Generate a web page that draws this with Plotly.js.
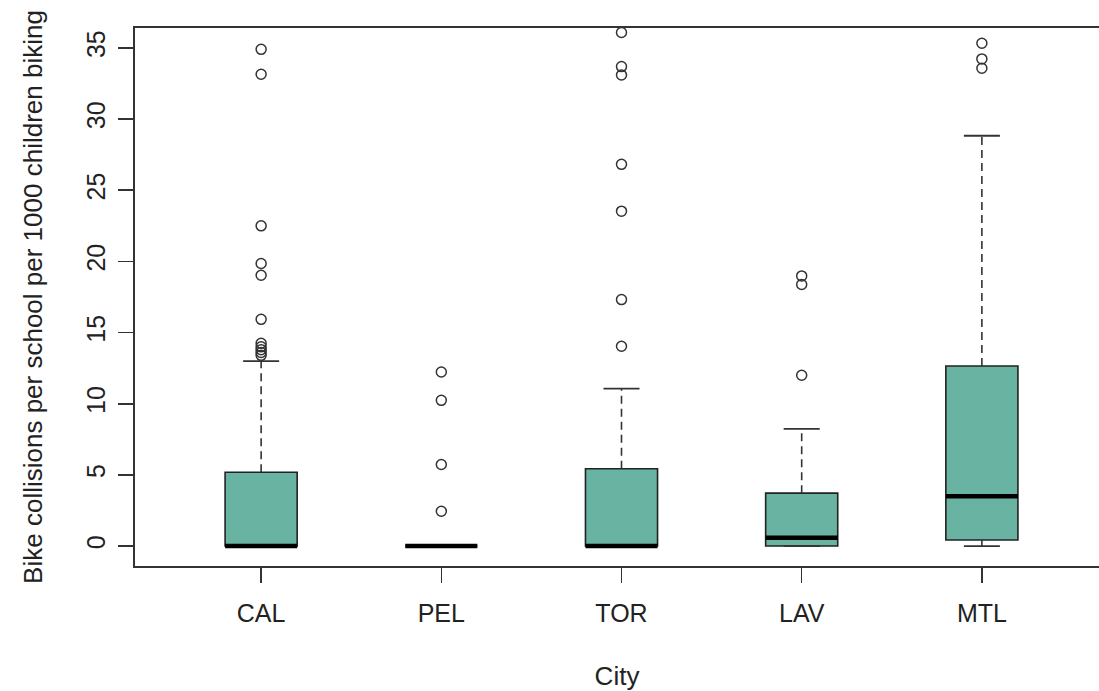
<!DOCTYPE html>
<html>
<head>
<meta charset="utf-8">
<script src="https://cdn.plot.ly/plotly-3.0.1.min.js"></script>
<style>html,body{margin:0;padding:0;background:#fff;}#chart{width:1099px;height:691px;}</style>
</head>
<body>
<div id="chart"></div>
<script>
// ---- data ----
const cities = ['CAL', 'PEL', 'TOR', 'LAV', 'MTL'];
const q1Values = [0, 0, 0, 0, 0.43];
const medianValues = [0, 0, 0, 0.58, 3.5];
const q3Values = [5.19, 0, 5.43, 3.72, 12.65];
const lowerWhiskers = [0, 0, 0, 0, 0];
const upperWhiskers = [13.0, 0, 11.06, 8.24, 28.83];
const outliersCAL = [34.9, 33.15, 22.5, 19.85, 19.03, 15.93, 14.25, 14.0, 13.8, 13.6, 13.4];
const outliersPEL = [12.23, 10.24, 5.73, 2.45];
const outliersTOR = [36.08, 33.69, 33.1, 26.82, 23.53, 17.32, 14.04];
const outliersLAV = [18.98, 18.38, 12.0];
const outliersMTL = [35.33, 34.23, 33.57];
const yTicks = [0, 5, 10, 15, 20, 25, 30, 35];

// ---- styling ----
const boxFill = '#69b3a2';
const ink = '#222222';
const boxHalf = 0.2;
const capHalf = 0.1;
const positions = cities.map((c, i) => i + 1);
const outlierSets = [outliersCAL, outliersPEL, outliersTOR, outliersLAV, outliersMTL];

const traces = [];

// box bodies
traces.push({
  type: 'box',
  x: positions,
  q1: q1Values,
  median: medianValues,
  q3: q3Values,
  lowerfence: q1Values,
  upperfence: q3Values,
  width: boxHalf * 2,
  whiskerwidth: 0,
  fillcolor: boxFill,
  line: {color: ink, width: 1.6},
  hoverinfo: 'skip',
  showlegend: false
});

// dashed whiskers
const wx = [], wy = [];
positions.forEach((p, i) => {
  wx.push(p, p, null, p, p, null);
  wy.push(q3Values[i], upperWhiskers[i], null, q1Values[i], lowerWhiskers[i], null);
});
traces.push({type: 'scatter', mode: 'lines', x: wx, y: wy,
  line: {color: '#333333', width: 1.6, dash: '8px,5px'}, hoverinfo: 'skip', showlegend: false});

// whisker caps
const cx = [], cy = [];
positions.forEach((p, i) => {
  cx.push(p - capHalf, p + capHalf, null, p - capHalf, p + capHalf, null);
  cy.push(upperWhiskers[i], upperWhiskers[i], null, lowerWhiskers[i], lowerWhiskers[i], null);
});
traces.push({type: 'scatter', mode: 'lines', x: cx, y: cy,
  line: {color: '#333333', width: 1.8}, hoverinfo: 'skip', showlegend: false});

// medians
const mx = [], my = [];
positions.forEach((p, i) => {
  mx.push(p - boxHalf, p + boxHalf, null);
  my.push(medianValues[i], medianValues[i], null);
});
traces.push({type: 'scatter', mode: 'lines', x: mx, y: my,
  line: {color: '#000000', width: 4.5}, hoverinfo: 'skip', showlegend: false});

// outliers
const ox = [], oy = [];
outlierSets.forEach((set, i) => set.forEach(v => { ox.push(positions[i]); oy.push(v); }));
traces.push({type: 'scatter', mode: 'markers', x: ox, y: oy,
  marker: {symbol: 'circle-open', size: 10, color: '#333333', line: {width: 1.5, color: '#333333'}},
  cliponaxis: true, hoverinfo: 'skip', showlegend: false});

const family = '"Liberation Sans", Arial, Helvetica, sans-serif';
const tickFont = {family: family, size: 25, color: ink};
const titleFont = {family: family, size: 26, color: ink};

const layout = {
  width: 1099, height: 691,
  margin: {l: 135, r: 0, t: 28, b: 125, pad: 0},
  paper_bgcolor: '#ffffff', plot_bgcolor: '#ffffff',
  font: tickFont,
  showlegend: false,
  xaxis: {
    range: [0.3, 5.65],
    tickvals: positions, ticktext: cities,
    ticks: 'outside', ticklen: 15, tickwidth: 1.6, tickcolor: '#333333',
    showline: true, linecolor: '#333333', linewidth: 1.6, mirror: true,
    showgrid: false, zeroline: false,
    ticklabelstandoff: 9,
    tickfont: tickFont,
    title: {text: 'City', font: titleFont, standoff: 42}
  },
  yaxis: {
    range: [-1.4, 36.4],
    tickvals: yTicks, ticktext: yTicks.map(String),
    tickangle: -90,
    ticks: 'outside', ticklen: 15, tickwidth: 1.6, tickcolor: '#333333',
    showline: true, linecolor: '#333333', linewidth: 1.6, mirror: false,
    showgrid: false, zeroline: false,
    ticklabelstandoff: 3,
    tickfont: tickFont,
    title: {text: 'Bike collisions per school per 1000 children biking', font: titleFont, standoff: 32}
  }
};

Plotly.newPlot('chart', traces, layout, {staticPlot: true, displayModeBar: false});
</script>
</body>
</html>
